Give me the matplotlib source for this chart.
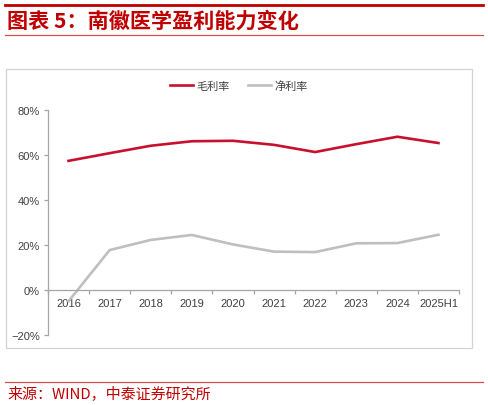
import matplotlib
matplotlib.use("Agg")
import matplotlib.pyplot as plt
from matplotlib.patches import Rectangle
from matplotlib.lines import Line2D
from matplotlib.ticker import FixedLocator, PercentFormatter

plt.rcParams['font.family'] = ['Liberation Sans', 'Noto Sans CJK SC', 'DejaVu Sans']

categories = ["2016", "2017", "2018", "2019", "2020", "2021", "2022", "2023", "2024", "2025H1"]
gross_margin = [57.3, 60.7, 64.0, 66.0, 66.2, 64.4, 61.2, 64.7, 68.0, 65.2]
net_margin = [-5.0, 17.7, 22.2, 24.4, 20.2, 17.0, 16.8, 20.7, 20.8, 24.5]
series_names = ["毛利率", "净利率"]
title_text = "图表 5：南徽医学盈利能力变化"
source_text = "来源：WIND，中泰证券研究所"

W, H = 488, 406
fig = plt.figure(figsize=(W / 100, H / 100), dpi=100)

def fx(px):
    return px / W

def fy(py):
    return 1 - py / H

red = "#C00000"
gross_color = "#C8102E"
net_color = "#BFBFBF"
axis_color = "#A6A6A6"
text_color = "#404040"

# decorative lines
fig.add_artist(Line2D([fx(5), fx(483)], [fy(6), fy(6)], color=red, lw=2.0))
fig.add_artist(Line2D([fx(5), fx(483)], [fy(36), fy(36)], color="#D05050", lw=0.9))
fig.add_artist(Line2D([fx(5), fx(483)], [fy(383), fy(383)], color="#D05050", lw=0.9))

fig.text(fx(7), fy(21), title_text, color=red, fontsize=15.2, fontweight='bold',
         family=['Noto Sans CJK SC', 'DejaVu Sans'], va='center', ha='left', style='italic')
fig.text(fx(7), fy(394), source_text, color=red, fontsize=10.8,
         family=['Noto Sans CJK SC', 'DejaVu Sans'], va='center', ha='left')

# chart frame
fig.add_artist(Rectangle((fx(6), fy(349)), fx(472) - fx(6), fy(70) - fy(349),
                         transform=fig.transFigure, fill=False, edgecolor="#D3D3D3", lw=0.9))

ax = fig.add_axes([fx(48), fy(336), fx(459) - fx(48), fy(110.7) - fy(336)])
x = list(range(len(categories)))
l1, = ax.plot(x, gross_margin, color=gross_color, lw=1.9, solid_joinstyle='miter', clip_on=False)
l2, = ax.plot(x, net_margin, color=net_color, lw=1.9, solid_joinstyle='miter', clip_on=False)

ax.set_xlim(-0.5, len(categories) - 0.5)
ax.set_ylim(-20, 80)
ax.set_yticks([-20, 0, 20, 40, 60, 80])
ax.yaxis.set_major_formatter(PercentFormatter(decimals=0))

for s in ['top', 'right']:
    ax.spines[s].set_visible(False)
ax.spines['left'].set_color(axis_color)
ax.spines['bottom'].set_color(axis_color)
ax.spines['left'].set_linewidth(0.9)
ax.spines['bottom'].set_linewidth(0.9)
ax.spines['bottom'].set_position(('data', 0))

ax.set_xticks(x)
ax.set_xticklabels(categories)
ax.xaxis.set_minor_locator(FixedLocator([i - 0.5 for i in range(len(categories) + 1)]))
ax.tick_params(axis='x', which='major', length=0, pad=6, labelsize=8, labelcolor=text_color)
ax.tick_params(axis='x', which='minor', length=3, direction='out', color=axis_color, width=0.9)
ax.tick_params(axis='y', length=3, direction='out', color=axis_color, width=0.9,
               labelsize=8, labelcolor=text_color, pad=3)
ax.patch.set_visible(False)

leg = fig.legend([l1, l2], series_names, loc='center', bbox_to_anchor=(fx(239), fy(87)),
                 ncol=2, frameon=False, handlelength=2.1, handletextpad=0.3, columnspacing=1.6,
                 prop={'family': ['Noto Sans CJK SC', 'DejaVu Sans'], 'size': 8})
for t in leg.get_texts():
    t.set_color(text_color)

fig.savefig("out.png", dpi=100)
